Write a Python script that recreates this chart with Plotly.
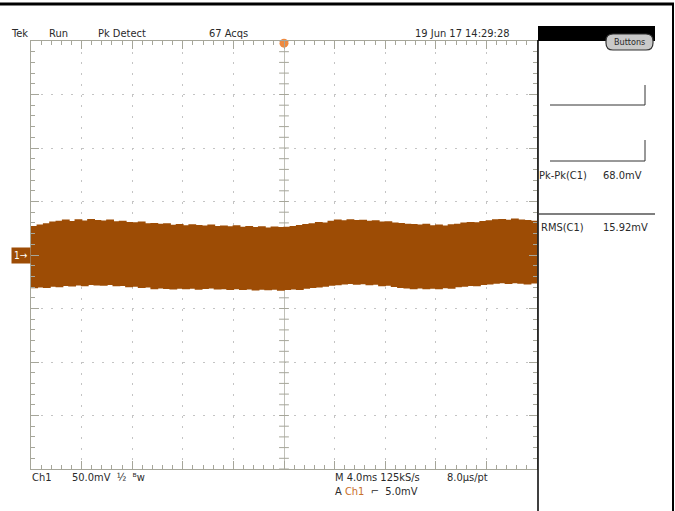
import plotly.graph_objects as go
import numpy as np

# ---------------- data (read from the screen capture) ----------------
# time axis: 4.0 ms/div, 10 divisions, trigger at centre
t_start_ms = -20.0
t_step_ms = 0.5
# upper envelope of the Ch1 trace (mV)
upper_mV = [26.5, 27.8, 29.0, 30.6, 31.2, 32.4, 31.0, 32.8, 31.5, 33.0, 32.1,
            31.6, 32.4, 30.9, 31.2, 30.2, 29.8, 30.5, 28.9, 29.3, 28.4,
            28.9, 27.6, 28.2, 27.1, 28.0, 27.4, 26.8, 27.9, 26.5, 26.9,
            26.1, 27.0, 25.8, 26.4, 25.5, 26.2, 25.1, 25.9, 25.4, 25.8,
            26.3, 27.4, 28.2, 28.9, 30.1, 29.6, 31.2, 32.5, 31.8, 32.6,
            31.9, 32.3, 31.4, 31.8, 30.5, 30.9, 29.6, 29.2, 28.6, 28.3,
            27.8, 28.5, 27.2, 27.9, 26.9, 28.1, 28.4, 29.6, 30.2, 29.9,
            31.0, 31.8, 32.6, 33.0, 32.2, 33.3, 32.5, 32.0, 31.2, 31.6]
# lower envelope of the Ch1 trace (mV)
lower_mV = [-30.4, -29.6, -30.1, -28.9, -29.4, -28.3, -28.8, -27.9, -28.5, -27.4, -27.8,
            -28.1, -27.3, -28.6, -28.2, -29.5, -29.0, -30.1, -29.6, -31.2, -30.6,
            -31.0, -31.6, -30.8, -31.4, -30.9, -31.8, -31.1, -30.7, -31.5, -31.2,
            -31.9, -31.3, -32.0, -31.6, -32.5, -31.8, -32.3, -31.7, -32.6, -32.1,
            -31.5, -32.0, -30.8, -30.2, -29.6, -28.9, -28.1, -27.6, -26.9, -26.5,
            -27.2, -26.6, -27.5, -27.1, -28.4, -28.0, -29.3, -30.1, -30.6, -31.2,
            -30.7, -31.4, -30.9, -31.3, -30.4, -30.8, -29.5, -29.0, -28.2, -28.6,
            -27.3, -26.8, -26.1, -25.7, -26.4, -25.6, -26.2, -26.8, -25.9, -26.5]
time_ms = [t_start_ms + i * t_step_ms for i in range(len(upper_mV))]

volts_per_div_mV = 50.0
time_per_div_ms = 4.0
n_hdiv = 10
n_vdiv = 8

header_labels = ["Tek", "Run", "Pk Detect", "67 Acqs", "19 Jun 17 14:29:28"]
meas_names = ["Pk-Pk(C1)", "RMS(C1)"]
meas_values = ["68.0mV", "15.92mV"]

# ---------------- layout geometry (pixels) ----------------
W, H = 675, 511
L, R, T, B = 31, 537, 41, 469
def px(x):
    return (x - L) / (R - L)
def py(y):
    return (B - y) / (B - T)

TRACE = "#9d4c05"
GRAT = "#a6a69a"
FONT = "Liberation Sans Narrow, DejaVu Sans Condensed, Arial Narrow, sans-serif"
TXT = "#2a2a2a"

xr = [-n_hdiv / 2 * time_per_div_ms, n_hdiv / 2 * time_per_div_ms]
yr = [-n_vdiv / 2 * volts_per_div_mV, n_vdiv / 2 * volts_per_div_mV]

fig = go.Figure()

# centre cross-hair ticks
sub_v = volts_per_div_mV / 5
sub_t = time_per_div_ms / 5
cy = np.arange(yr[0], yr[1] + 0.01, sub_v)
cx = np.arange(xr[0], xr[1] + 0.01, sub_t)
fig.add_trace(go.Scatter(x=np.zeros_like(cy), y=cy, mode="markers",
                         marker=dict(symbol="line-ew", size=7, line=dict(color=GRAT, width=1)),
                         hoverinfo="skip", showlegend=False))
fig.add_trace(go.Scatter(x=cx, y=np.zeros_like(cx), mode="markers",
                         marker=dict(symbol="line-ns", size=7, line=dict(color=GRAT, width=1)),
                         hoverinfo="skip", showlegend=False))

# waveform band
fig.add_trace(go.Scatter(x=time_ms, y=lower_mV, mode="lines", line=dict(color=TRACE, width=1.5, shape="hv"),
                         showlegend=False, hoverinfo="skip"))
fig.add_trace(go.Scatter(x=time_ms, y=upper_mV, mode="lines", line=dict(color=TRACE, width=1.5, shape="hv"),
                         fill="tonexty", fillcolor=TRACE, showlegend=False, hoverinfo="skip"))

# trigger position marker
fig.add_trace(go.Scatter(x=[0], y=[yr[1] - 2], mode="markers",
                         marker=dict(symbol="circle", size=9, color="#ee8a40"),
                         cliponaxis=False, showlegend=False, hoverinfo="skip"))

fig.update_xaxes(range=xr, showgrid=True, gridcolor="#c4c4c4", griddash="2px,8.7px", gridwidth=1,
                 dtick=time_per_div_ms, tick0=0, ticks="inside", ticklen=8, tickcolor=GRAT,
                 minor=dict(dtick=sub_t, tick0=0, ticks="inside", ticklen=4, tickcolor=GRAT, showgrid=False),
                 showline=True, linecolor=GRAT, linewidth=1, mirror="ticks",
                 zeroline=True, zerolinecolor="#c0c0b8", zerolinewidth=1,
                 showticklabels=False, fixedrange=True)
fig.update_yaxes(range=yr, showgrid=True, gridcolor="#c4c4c4", griddash="2px,8.1px", gridwidth=1,
                 dtick=volts_per_div_mV, tick0=0, ticks="inside", ticklen=8, tickcolor=GRAT,
                 minor=dict(dtick=sub_v, tick0=0, ticks="inside", ticklen=4, tickcolor=GRAT, showgrid=False),
                 showline=True, linecolor=GRAT, linewidth=1, mirror="ticks",
                 zeroline=True, zerolinecolor="#c0c0b8", zerolinewidth=1,
                 showticklabels=False, fixedrange=True)

shapes = []
# outer frame: top and right border
shapes.append(dict(type="rect", xref="paper", yref="paper", x0=px(0), x1=px(674), y0=py(2.5), y1=py(5.5),
                   fillcolor="black", line=dict(width=0)))
shapes.append(dict(type="rect", xref="paper", yref="paper", x0=px(672), x1=px(674), y0=py(3), y1=py(511),
                   fillcolor="black", line=dict(width=0)))
# separator between graticule and side menu
shapes.append(dict(type="line", xref="paper", yref="paper", x0=px(538), x1=px(538), y0=py(40), y1=py(511),
                   line=dict(color="black", width=1.5)))
# black header bar of side menu
shapes.append(dict(type="rect", xref="paper", yref="paper", x0=px(538), x1=px(655), y0=py(26), y1=py(41),
                   fillcolor="black", line=dict(width=0)))
# "Buttons" pill (rounded with quadratic corners)
bx0, bx1, by0, by1, rr = 606, 653, 34, 50, 7
pts = [("M", bx0 + rr, by0), ("L", bx1 - rr, by0), ("Q", bx1, by0, bx1, by0 + rr), ("L", bx1, by1 - rr),
       ("Q", bx1, by1, bx1 - rr, by1), ("L", bx0 + rr, by1), ("Q", bx0, by1, bx0, by1 - rr),
       ("L", bx0, by0 + rr), ("Q", bx0, by0, bx0 + rr, by0)]
path = ""
for p in pts:
    cmd = p[0]
    coords = p[1:]
    segs = []
    for i in range(0, len(coords), 2):
        segs.append(f"{px(coords[i]):.5f},{py(coords[i+1]):.5f}")
    path += cmd + " ".join(segs) + " "
path += "Z"
shapes.append(dict(type="path", xref="paper", yref="paper", path=path,
                   fillcolor="#c9c9c9", line=dict(color="#333333", width=1.2)))
# side-menu brackets
for (ytop, ybot) in [(85, 105), (140, 161)]:
    shapes.append(dict(type="line", xref="paper", yref="paper", x0=px(550), x1=px(645), y0=py(ybot), y1=py(ybot),
                       line=dict(color="#333333", width=1)))
    shapes.append(dict(type="line", xref="paper", yref="paper", x0=px(645), x1=px(645), y0=py(ytop), y1=py(ybot),
                       line=dict(color="#333333", width=1)))
# divider above RMS line
shapes.append(dict(type="line", xref="paper", yref="paper", x0=px(539), x1=px(655), y0=py(214), y1=py(214),
                   line=dict(color="black", width=1.2)))

annotations = []
def txt(x, y, s, color=TXT, size=11, anchor="left"):
    annotations.append(dict(xref="paper", yref="paper", x=px(x), y=py(y), text=s, showarrow=False,
                            xanchor=anchor, yanchor="middle", font=dict(family=FONT, size=size, color=color)))

hx = [9, 47, 96, 207, 413]
for x, s in zip(hx, header_labels):
    txt(x, 33, s)
txt(606 + 23.5, 42, "Buttons", size=9, anchor="center")

txt(537, 175, meas_names[0])
txt(601, 175, meas_values[0])
txt(539, 227, meas_names[1])
txt(601, 227, meas_values[1])

txt(30, 478, "Ch1")
txt(70, 478, "50.0mV  ½  ᴮw")
txt(333, 478, "M 4.0ms 125kS/s")
txt(445, 478, "8.0µs/pt")
txt(333, 491, "A <span style='color:#c8702a'>Ch1</span>  ⌐  5.0mV")

# channel 1 ground marker
annotations.append(dict(xref="paper", yref="y", x=px(31), y=0, text="1→", showarrow=False,
                        xanchor="right", yanchor="middle", bgcolor=TRACE, borderpad=2,
                        font=dict(family=FONT, size=10, color="white")))

fig.update_layout(width=W, height=H, autosize=False,
                  margin=dict(l=L, r=W - R, t=T, b=H - B, pad=0),
                  plot_bgcolor="white", paper_bgcolor="white",
                  shapes=shapes, annotations=annotations, showlegend=False)

fig.write_html("out.html", config={"displayModeBar": False},
               post_script="document.body.style.margin='0';document.body.style.overflow='hidden';")
